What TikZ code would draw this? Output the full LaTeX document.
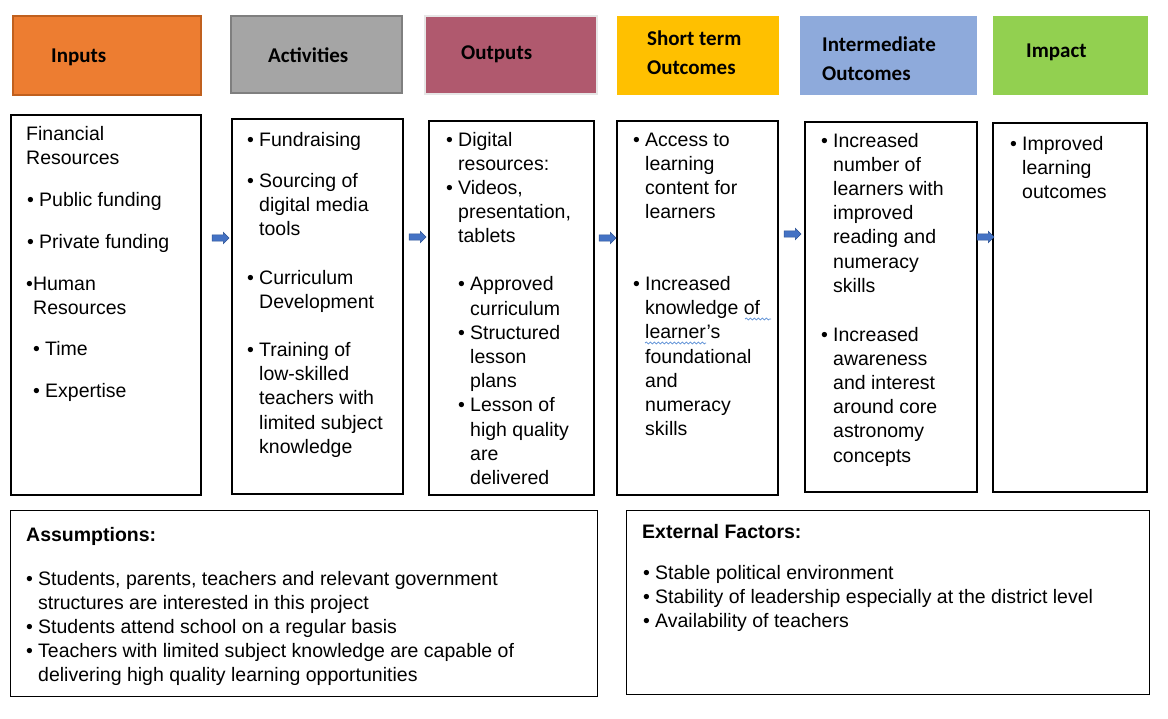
\documentclass[tikz,border=0pt]{standalone}
\usepackage{fontspec}
\setmainfont{Liberation Sans}
\newfontfamily\hdrfont{Carlito}
\usetikzlibrary{shapes.arrows,decorations.pathmorphing}
\definecolor{cInputs}{HTML}{ED7D31}
\definecolor{cInputsB}{HTML}{C0601E}
\definecolor{cAct}{HTML}{A5A5A5}
\definecolor{cActB}{HTML}{7F7F7F}
\definecolor{cOut}{HTML}{B0596E}
\definecolor{cOutB}{HTML}{E6E6E6}
\definecolor{cShort}{HTML}{FFC000}
\definecolor{cInter}{HTML}{8EAADB}
\definecolor{cImpact}{HTML}{92D050}
\definecolor{arrFill}{HTML}{4472C4}
\definecolor{arrEdge}{HTML}{2F5597}
\definecolor{squig}{HTML}{5B8FD6}
\newcommand{\bu}{\makebox[12pt][l]{•}}
\newcommand{\ct}{\hspace*{12pt}}
\begin{document}
\begin{tikzpicture}[x=1pt,y=-1pt,
  hdrbox/.style={anchor=north west, minimum width=#1, line width=1.8pt, inner sep=0pt},
  bodybox/.style={draw=black, line width=1.8pt, anchor=north west, inner sep=0pt},
  lowbox/.style={draw=black, line width=1.2pt, anchor=north west, inner sep=0pt},
  txt/.style={anchor=north west, inner sep=0pt, align=left, font=\fontsize{19.5}{24.2}\selectfont},
  htxt/.style={anchor=north west, inner sep=0pt, align=left, font=\hdrfont\bfseries\fontsize{21}{29}\selectfont},
  btxt/.style={anchor=north west, inner sep=0pt, align=left, font=\bfseries\fontsize{19.5}{24.2}\selectfont},
  blockarrow/.style={single arrow, draw=arrEdge, fill=arrFill, inner xsep=0pt, inner ysep=2.8pt,
     minimum height=17pt, single arrow head extend=2.6pt, line width=0.6pt},
  wavy/.style={draw=squig, line width=0.7pt, decorate, decoration={snake, amplitude=1pt, segment length=4pt}}
]
\useasboundingbox (0,0) rectangle (1168,719);
\fill[white] (0,0) rectangle (1168,719);

% header boxes
\node[hdrbox=188pt, minimum height=79pt, fill=cInputs, draw=cInputsB] (hIn) at (12,15) {};
\node[hdrbox=171pt, minimum height=77pt, fill=cAct, draw=cActB] (hAct) at (230,15) {};
\node[hdrbox=172pt, minimum height=78pt, fill=cOut, draw=cOutB] (hOut) at (424,15) {};
\node[hdrbox=162pt, minimum height=79pt, fill=cShort] (hShort) at (616,15) {};
\node[hdrbox=177pt, minimum height=79pt, fill=cInter] (hInter) at (799,15) {};
\node[hdrbox=155pt, minimum height=79pt, fill=cImpact] (hImp) at (992,15) {};

\node[htxt] (tIn) at (51,42) {\strut Inputs};
\node[htxt] (tAct) at (268,42) {\strut Activities};
\node[htxt] (tOut) at (461,39) {\strut Outputs};
\node[htxt] (tShort) at (647,25) {\strut Short term\\Outcomes};
\node[htxt] (tInter) at (822,31) {\strut Intermediate\\Outcomes};
\node[htxt] (tImp) at (1026,37) {\strut Impact};

% body boxes
\node[bodybox, minimum width=190pt, minimum height=380pt] (bIn) at (10,114) {};
\node[bodybox, minimum width=171pt, minimum height=375pt] (bAct) at (231,118) {};
\node[bodybox, minimum width=165pt, minimum height=374pt] (bOut) at (428,120) {};
\node[bodybox, minimum width=161pt, minimum height=374pt] (bShort) at (616,120) {};
\node[bodybox, minimum width=172pt, minimum height=370pt] (bInter) at (804,121) {};
\node[bodybox, minimum width=154pt, minimum height=369pt] (bImp) at (992,122) {};

% arrows
\node[blockarrow] (a1) at (219,238) {};
\node[blockarrow] (a2) at (416,237) {};
\node[blockarrow] (a3) at (606,238) {};
\node[blockarrow] (a4) at (791,234) {};
\node[blockarrow] (a5) at (984,237) {};

% body texts
\node[txt] (xIn) at (26,123) {\strut Financial\\ Resources\\[17.8pt]
 \hspace*{1pt}\bu Public funding\\[17.8pt]
 \hspace*{1pt}\bu Private funding\\[17.8pt]
 •Human\\ \hspace*{7pt}Resources\\[17pt]
 \hspace*{7pt}\bu Time\\[17.8pt]
 \hspace*{7pt}\bu Expertise};

\node[txt] (xAct) at (247,129) {\strut\bu Fundraising\\[16.8pt]
 \bu Sourcing of\\ \ct digital media\\ \ct tools\\[24.6pt]
 \bu Curriculum\\ \ct Development\\[23.8pt]
 \bu Training of\\ \ct low-skilled\\ \ct teachers with\\ \ct limited subject\\ \ct knowledge};

\node[txt] (xOut) at (446,129) {\strut\bu Digital\\ \ct resources:\\
 \bu Videos,\\ \ct presentation,\\ \ct tablets\\[23.8pt]
 \ct\bu Approved\\ \ct\ct curriculum\\
 \ct\bu Structured\\ \ct\ct lesson\\ \ct\ct plans\\
 \ct\bu Lesson of\\ \ct\ct high quality\\ \ct\ct are\\ \ct\ct delivered};

\node[txt] (xShort) at (633,129) {\strut\bu Access to\\ \ct learning\\ \ct content for\\ \ct learners\\[47.6pt]
 \bu Increased\\ \ct knowledge of\\ \ct learner’s\\ \ct foundational\\ \ct and\\ \ct numeracy\\ \ct skills};

\node[txt] (xInter) at (821,130) {\strut\bu Increased\\ \ct number of\\ \ct learners with\\ \ct improved\\ \ct reading and\\ \ct numeracy\\ \ct skills\\[24.6pt]
 \bu Increased\\ \ct awareness\\ \ct and interest\\ \ct around core\\ \ct astronomy\\ \ct concepts};

\node[txt] (xImp) at (1010,133) {\strut\bu Improved\\ \ct learning\\ \ct outcomes};

\draw[wavy] (745,319) -- (771,319);
\draw[wavy] (645,343) -- (706,343);

% bottom boxes
\node[lowbox, minimum width=587pt, minimum height=186pt] (bAss) at (10,510) {};
\node[lowbox, minimum width=523pt, minimum height=184pt] (bExt) at (626,510) {};

\node[btxt] (tAss) at (26,524) {\strut Assumptions:};
\node[txt] (xAss) at (26,568) {\strut\bu Students, parents, teachers and relevant government\\
 \ct structures are interested in this project\\
 \bu Students attend school on a regular basis\\
 \bu Teachers with limited subject knowledge are capable of\\
 \ct delivering high quality learning opportunities};

\node[btxt] (tExt) at (642,521) {\strut External Factors:};
\node[txt] (xExt) at (643,562) {\strut\bu Stable political environment\\
 \bu Stability of leadership especially at the district level\\
 \bu Availability of teachers};
\end{tikzpicture}
\end{document}
